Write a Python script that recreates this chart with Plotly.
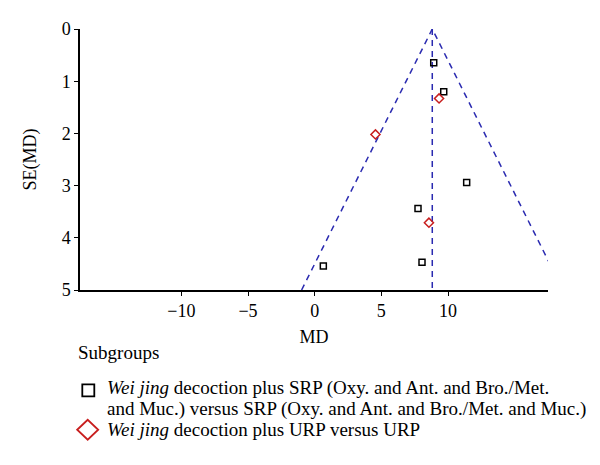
import plotly.graph_objects as go

# ---- data ----
srp_md = [8.93, 9.68, 11.40, 7.75, 8.05, 0.65]
srp_se = [0.645, 1.20, 2.94, 3.44, 4.47, 4.54]
urp_md = [9.33, 4.56, 8.57]
urp_se = [1.33, 2.02, 3.71]
pooled_md = 8.82
se_max = 5.0
x_ticks = [-10, -5, 0, 5, 10]
y_ticks = [0, 1, 2, 3, 4, 5]
legend_title = "Subgroups"
legend_lines = [
    "<i>Wei jing</i> decoction plus SRP (Oxy. and Ant. and Bro./Met.",
    "and Muc.) versus SRP (Oxy. and Ant. and Bro./Met. and Muc.)",
    "<i>Wei jing</i> decoction plus URP versus URP",
]

FONT = "Liberation Serif"
BLUE = "#2a2ab0"
RED = "#c81e1e"

OFF = 8  # page body margin
W, H = 592, 449
ML, MT = 80 - OFF, 29 - OFF
PW, PH = 468, 261.5
MR = W - ML - PW
MB = H - MT - PH


def px_x(px):
    return (px - OFF - ML) / PW


def px_y(py):
    return (MT + PH - (py - OFF)) / PH


fig = go.Figure()

# funnel (95% pseudo-CI) lines
fig.add_trace(go.Scatter(
    x=[pooled_md - 1.96 * se_max, pooled_md, pooled_md + 1.96 * se_max],
    y=[se_max, 0, se_max], mode="lines",
    line=dict(color=BLUE, width=1.5, dash="6px,5px"),
    showlegend=False, hoverinfo="skip"))
fig.add_trace(go.Scatter(
    x=[pooled_md, pooled_md], y=[0, se_max], mode="lines",
    line=dict(color=BLUE, width=1.5, dash="6px,5px"),
    showlegend=False, hoverinfo="skip"))

fig.add_trace(go.Scatter(
    x=srp_md, y=srp_se, mode="markers",
    marker=dict(symbol="square-open", size=6, color="black", line=dict(width=1.5)),
    showlegend=False))
fig.add_trace(go.Scatter(
    x=urp_md, y=urp_se, mode="markers",
    marker=dict(symbol="diamond-open", size=7, color=RED, line=dict(width=1.5)),
    showlegend=False))

axis_common = dict(
    showline=True, linecolor="black", linewidth=1.5,
    ticks="outside", ticklen=4, tickwidth=1.2, tickcolor="black",
    showgrid=False, zeroline=False, automargin=False,
    tickfont=dict(family=FONT, size=18, color="black"),
)
fig.update_xaxes(range=[-17.6, 17.5], tickvals=x_ticks,
                 title=dict(text="MD", font=dict(family=FONT, size=18, color="black"), standoff=10),
                 **axis_common)
fig.update_yaxes(range=[5, 0], tickvals=y_ticks,
                 title=dict(text="SE(MD)", font=dict(family=FONT, size=18, color="black"), standoff=20),
                 **axis_common)

# legend (drawn manually)
annotations = [
    dict(text=legend_title, x=px_x(77), y=px_y(353.5)),
    dict(text=legend_lines[0], x=px_x(106), y=px_y(390)),
    dict(text=legend_lines[1], x=px_x(106), y=px_y(410.5)),
    dict(text=legend_lines[2], x=px_x(106), y=px_y(431)),
]
for a in annotations:
    a.update(xref="paper", yref="paper", showarrow=False,
             xanchor="left", yanchor="middle", height=20, valign="bottom", borderpad=0,
             font=dict(family=FONT, size=19, color="black"))

shapes = [
    dict(type="rect", xref="paper", yref="paper", xsizemode="pixel", ysizemode="pixel",
         xanchor=px_x(88.3), yanchor=px_y(391), x0=-6, x1=6, y0=-6, y1=6,
         line=dict(color="black", width=1.8), fillcolor="rgba(0,0,0,0)"),
    dict(type="path", xref="paper", yref="paper", xsizemode="pixel", ysizemode="pixel",
         xanchor=px_x(87.7), yanchor=px_y(430.5),
         path="M -10.5 0 L 0 10 L 10.5 0 L 0 -10 Z",
         line=dict(color=RED, width=1.8), fillcolor="rgba(0,0,0,0)"),
]

fig.update_layout(
    width=W, height=H,
    margin=dict(l=ML, r=MR, t=MT, b=MB, pad=0, autoexpand=False),
    paper_bgcolor="white", plot_bgcolor="white",
    font=dict(family=FONT, color="black"),
    annotations=annotations, shapes=shapes,
    showlegend=False,
)

fig.write_html("out.html")
